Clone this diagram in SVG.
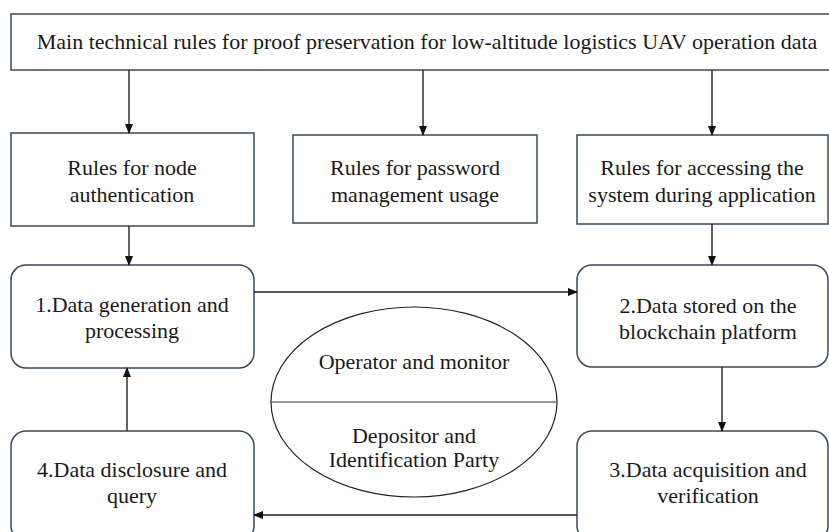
<svg xmlns="http://www.w3.org/2000/svg" width="829" height="532" viewBox="0 0 829 532">
<defs>
<marker id="ah" markerWidth="10" markerHeight="8" refX="9" refY="4" orient="auto" markerUnits="userSpaceOnUse">
<path d="M0,0 L10,4 L0,8 Z" fill="#111"/>
</marker>
<style>
.box{fill:#fff;stroke:#3b4a5c;stroke-width:1.5}
.c{stroke:#222;stroke-width:1.4;fill:none;marker-end:url(#ah)}
</style>
</defs>
<rect width="829" height="532" fill="#fff"/>
<g id="main" font-family="Liberation Serif" font-size="22" fill="#1a1a1a" text-anchor="middle">
<rect class="box" x="11" y="14" width="830" height="56"/>
<text x="427" y="49">Main technical rules for proof preservation for low-altitude logistics UAV operation data</text>
</g>
<g id="rule-node" font-family="Liberation Serif" font-size="22" fill="#1a1a1a" text-anchor="middle">
<rect class="box" x="11" y="133" width="243" height="93"/>
<text x="132" y="175">Rules for node</text>
<text x="132" y="202">authentication</text>
</g>
<g id="rule-password" font-family="Liberation Serif" font-size="22" fill="#1a1a1a" text-anchor="middle">
<rect class="box" x="293" y="135" width="244" height="88"/>
<text x="415" y="175">Rules for password</text>
<text x="415" y="202">management usage</text>
</g>
<g id="rule-access" font-family="Liberation Serif" font-size="22" fill="#1a1a1a" text-anchor="middle">
<rect class="box" x="577" y="135" width="251" height="89"/>
<text x="702" y="175">Rules for accessing the</text>
<text x="702" y="202">system during application</text>
</g>
<g id="step1" font-family="Liberation Serif" font-size="22" fill="#1a1a1a" text-anchor="middle">
<rect class="box" x="11" y="265" width="243" height="103" rx="15"/>
<text x="132" y="312">1.Data generation and</text>
<text x="132" y="338">processing</text>
</g>
<g id="step2" font-family="Liberation Serif" font-size="22" fill="#1a1a1a" text-anchor="middle">
<rect class="box" x="577" y="265" width="251" height="102" rx="15"/>
<text x="708" y="313">2.Data stored on the</text>
<text x="708" y="339">blockchain platform</text>
</g>
<g id="step3" font-family="Liberation Serif" font-size="22" fill="#1a1a1a" text-anchor="middle">
<rect class="box" x="577" y="431" width="251" height="110" rx="15"/>
<text x="708" y="477">3.Data acquisition and</text>
<text x="708" y="503">verification</text>
</g>
<g id="step4" font-family="Liberation Serif" font-size="22" fill="#1a1a1a" text-anchor="middle">
<rect class="box" x="11" y="431" width="243" height="110" rx="15"/>
<text x="132" y="477">4.Data disclosure and</text>
<text x="132" y="503">query</text>
</g>
<g id="roles" font-family="Liberation Serif" font-size="22" fill="#1a1a1a" text-anchor="middle">
<ellipse cx="414" cy="402" rx="143" ry="95" fill="#fff" stroke="#222" stroke-width="1.2"/>
<line x1="271" y1="402" x2="557" y2="402" stroke="#333" stroke-width="1"/>
<text x="414" y="369">Operator and monitor</text>
<text x="414" y="443">Depositor and</text>
<text x="414" y="467">Identification Party</text>
</g>
<g id="connectors">
<line class="c" x1="129" y1="70" x2="129" y2="133"/>
<line class="c" x1="423" y1="70" x2="423" y2="135"/>
<line class="c" x1="712" y1="70" x2="712" y2="135"/>
<line class="c" x1="129" y1="226" x2="129" y2="265"/>
<line class="c" x1="712" y1="224" x2="712" y2="265"/>
<line class="c" x1="254" y1="292" x2="577" y2="292"/>
<line class="c" x1="722" y1="367" x2="722" y2="431"/>
<line class="c" x1="577" y1="515" x2="254" y2="515"/>
<line class="c" x1="127" y1="431" x2="127" y2="368"/>
</g>
</svg>
